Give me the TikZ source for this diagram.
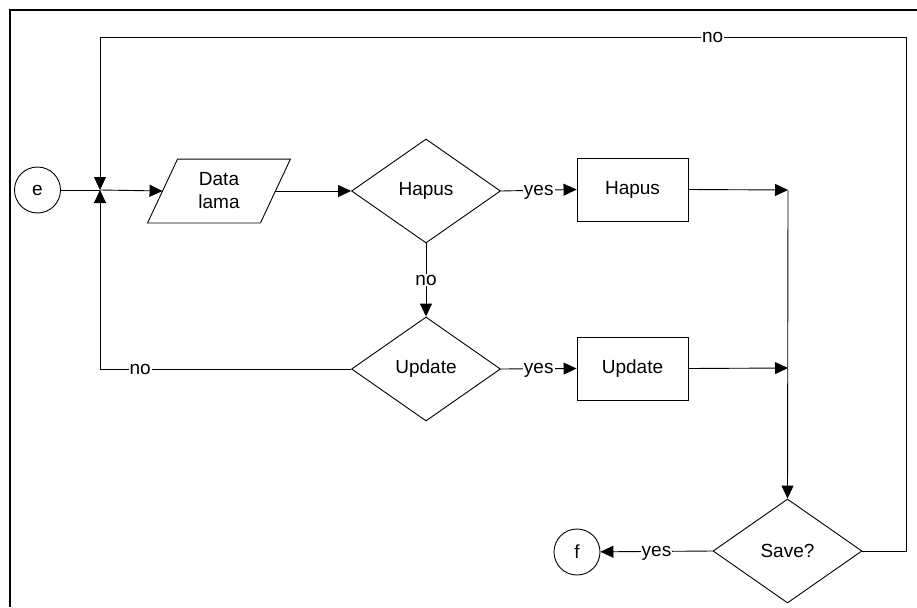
\documentclass[tikz,border=0pt]{standalone}
\usepackage{fontspec}
\setmainfont{Liberation Sans}
\usetikzlibrary{shapes.geometric,arrows.meta,calc}

\begin{document}
\begin{tikzpicture}[x=1pt,y=-1pt,
  font=\fontsize{19}{23}\selectfont,
  every path/.style={line width=0.9pt},
  arr/.style={-{Triangle[length=13pt,width=12pt]}},
  decision/.style={draw,diamond,minimum width=149pt,minimum height=104pt,inner sep=0pt},
  procbox/.style={draw,rectangle,minimum width=111pt,minimum height=63pt,inner sep=0pt},
  connector/.style={draw,circle,minimum size=46pt,inner sep=0pt},
  ioarea/.style={rectangle,minimum width=112pt,minimum height=63pt,inner sep=0pt,align=center},
  lbl/.style={fill=white,inner sep=1pt,text depth=0pt}
]
\useasboundingbox (0,0) rectangle (917,607);

% outer frame (left and top edges)
\draw[line width=2.5pt] (10,607) -- (10,10) -- (917,10);

% nodes
\node[connector] (e) at (37.5,190) {e};
\coordinate (J) at (100,190);
\node[ioarea] (data) at (219,191) {Data\\lama};
\draw ($(data.south west)+(-15,0)$) -- ($(data.south east)+(-15,0)$)
      -- ($(data.north east)+(15,0)$) -- ($(data.north west)+(15,0)$) -- cycle;
\node[decision] (hq) at (426,191) {Hapus};
\node[procbox] (hbox) at (632.5,189.5) {Hapus};
\node[decision] (uq) at (426,369) {Update};
\node[procbox] (ubox) at (632.5,368.5) {Update};
\node[decision] (save) at (787.5,551) {Save?};
\node[connector] (f) at (577,552) {f};

\coordinate (m1) at (788,190);
\coordinate (m2) at (788,368);
\coordinate (ubend) at (100,369);
\coordinate (rtop) at (906,37);
\coordinate (ltop) at (100,37);
\coordinate (rbot) at (906,551);

% connectors
\draw (e) -- (J);
\draw[arr] (J) -- (data.west);
\draw[arr] (data.east) -- (hq.west);
\draw[arr] (hq.east) -- node[lbl]{yes} (hbox.west);
\draw[arr] (hbox.east) -- (m1);
\draw[arr] (m1) -- (save.north);
\draw[arr] (hq.south) -- node[lbl]{no} (uq.north);
\draw[arr] (uq.east) -- node[lbl]{yes} (ubox.west);
\draw[arr] (ubox.east) -- (m2);
\draw[arr] (uq.west) -- node[lbl,pos=0.84]{no} (ubend) -- (J);
\draw[arr] (save.east) -- (rbot) -- (rtop) -- node[lbl,pos=0.24]{no} (ltop) -- (J);
\draw[arr] (save.west) -- node[lbl]{yes} (f);
\end{tikzpicture}
\end{document}
